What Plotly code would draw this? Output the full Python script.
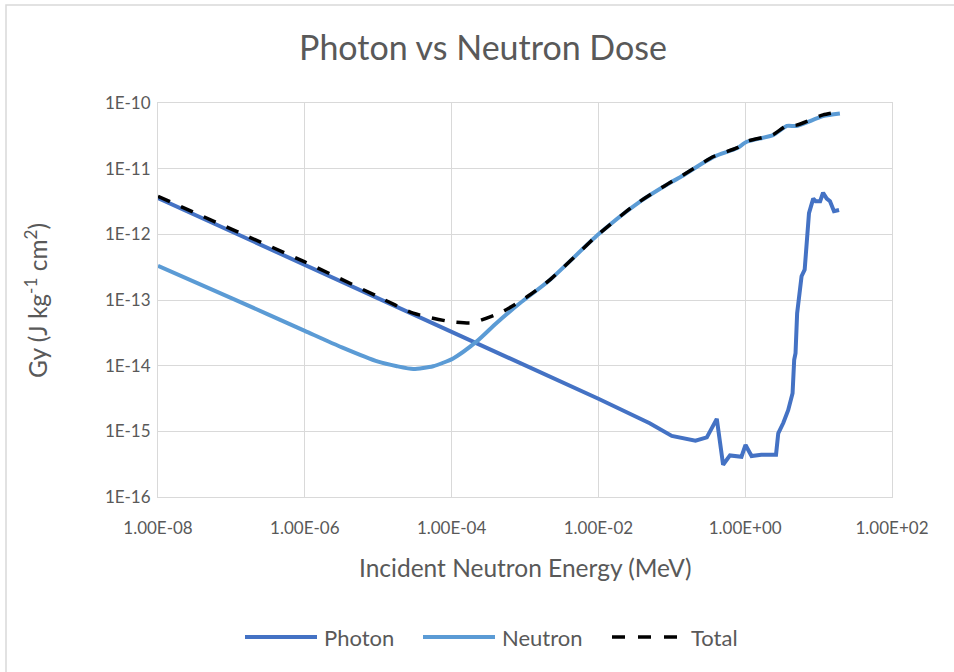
import plotly.graph_objects as go

# Incident neutron energy (MeV) and dose per fluence (Gy, J kg^-1 cm^2)
photon_energy = [1e-8, 1e-7, 1e-6, 1e-5, 1e-4, 1e-3, 1e-2, 0.05, 0.1, 0.21, 0.3, 0.41,
                 0.5, 0.62, 0.89, 1.01, 1.22, 1.66, 2.63, 2.82, 3.31, 3.85, 4.42, 4.65,
                 4.85, 5.1, 5.86, 6.46, 6.85, 7.4, 8.45, 9.1, 10.5, 11.5, 12.9, 14.3,
                 16.2, 19.0]
photon_dose = [3.58e-12, 1.11e-12, 3.42e-13, 1.06e-13, 3.27e-14, 1.01e-14, 3.13e-15,
               1.33e-15, 8.5e-16, 7.2e-16, 8.1e-16, 1.55e-15, 3.1e-16, 4.3e-16, 4.1e-16,
               6.2e-16, 4.2e-16, 4.4e-16, 4.4e-16, 9.3e-16, 1.35e-15, 2.1e-15, 3.8e-15,
               1.23e-14, 1.55e-14, 6.3e-14, 2.3e-13, 2.9e-13, 6.5e-13, 2.1e-12, 3.5e-12,
               3.2e-12, 3.2e-12, 4.3e-12, 3.5e-12, 3.2e-12, 2.25e-12, 2.35e-12]

neutron_energy = [1e-8, 1e-7, 1e-6, 3.2e-6, 1e-5, 1.8e-5, 3e-5, 5.6e-5, 1.05e-4, 2.2e-4,
                  4.1e-4, 8.5e-4, 2.2e-3, 1e-2, 3.2e-2, 0.1, 0.13, 0.37, 0.77, 1.05, 2.4,
                  3.7, 5.0, 11.5, 19.5]
neutron_dose = [3.31e-13, 1.07e-13, 3.39e-14, 1.9e-14, 1.15e-14, 9.8e-15, 8.9e-15, 9.8e-15,
                1.29e-14, 2.34e-14, 4.47e-14, 8.9e-14, 2.04e-13, 1.0e-12, 2.82e-12, 6.3e-12,
                7.4e-12, 1.51e-11, 2.04e-11, 2.57e-11, 3.24e-11, 4.47e-11, 4.47e-11, 6.3e-11,
                6.9e-11]

total_energy = [1e-8, 1e-7, 1e-6, 1e-5, 3e-5, 9.5e-5, 1.8e-4, 2.2e-4, 4.9e-4, 1.17e-3,
                2.2e-3, 1e-2, 3.2e-2, 0.1, 0.13, 0.37, 0.77, 1.05, 2.4, 3.7, 5.0, 11.5, 16.0]
total_dose = [3.8e-12, 1.2e-12, 3.8e-13, 1.12e-13, 6.3e-14, 4.7e-14, 4.47e-14, 4.68e-14,
              6.6e-14, 1.2e-13, 2.04e-13, 1.0e-12, 2.85e-12, 6.4e-12, 7.5e-12, 1.53e-11,
              2.07e-11, 2.6e-11, 3.3e-11, 4.55e-11, 4.6e-11, 6.6e-11, 7.1e-11]

x_tick_vals = [1e-8, 1e-6, 1e-4, 1e-2, 1e0, 1e2]
x_tick_text = ["1.00E-08", "1.00E-06", "1.00E-04", "1.00E-02", "1.00E+00", "1.00E+02"]
y_tick_vals = [1e-16, 1e-15, 1e-14, 1e-13, 1e-12, 1e-11, 1e-10]
y_tick_text = ["1E-16", "1E-15", "1E-14", "1E-13", "1E-12", "1E-11", "1E-10"]

series_names = ["Photon", "Neutron", "Total"]
series_colors = ["#4472C4", "#5B9BD5", "#000000"]

FONT = "Lato"
GREY = "#595959"
GRID = "#D9D9D9"

W, H = 954, 672
L, R, T, B = 158, 892, 103, 497   # plot-area edges in pixels


def px_x(px):
    return (px - L) / (R - L)


def px_y(py):
    return (B - py) / (B - T)


fig = go.Figure()
fig.add_trace(go.Scatter(x=photon_energy, y=photon_dose, mode="lines", name=series_names[0],
                         line=dict(color=series_colors[0], width=4), showlegend=False))
fig.add_trace(go.Scatter(x=neutron_energy, y=neutron_dose, mode="lines", name=series_names[1],
                         line=dict(color=series_colors[1], width=4, shape="spline",
                                   smoothing=0.6), showlegend=False))
fig.add_trace(go.Scatter(x=total_energy, y=total_dose, mode="lines", name=series_names[2],
                         line=dict(color=series_colors[2], width=3.5, dash="13px,12px",
                                   shape="spline", smoothing=0.6), showlegend=False))

fig.update_layout(
    width=W, height=H,
    margin=dict(l=L, r=W - R, t=T, b=H - B),
    paper_bgcolor="white", plot_bgcolor="white",
    font=dict(family=FONT, color=GREY),
    title=dict(text="Photon vs Neutron Dose", x=483 / W, xanchor="center",
               y=1 - 48 / H, yanchor="middle", xref="container", yref="container",
               font=dict(size=34, color=GREY, family=FONT)),
)

fig.update_xaxes(type="log", range=[-8, 2], tickvals=x_tick_vals, ticktext=x_tick_text,
                 showgrid=True, gridcolor=GRID, gridwidth=1, showline=True, linecolor=GRID,
                 linewidth=1, mirror=True, ticks="", zeroline=False, ticklabelstandoff=16,
                 tickfont=dict(size=17, color=GREY, family=FONT))
fig.update_yaxes(type="log", range=[-16, -10], tickvals=y_tick_vals, ticktext=y_tick_text,
                 showgrid=True, gridcolor=GRID, gridwidth=1, showline=True, linecolor=GRID,
                 linewidth=1, mirror=True, ticks="", zeroline=False, ticklabelstandoff=3,
                 tickfont=dict(size=17, color=GREY, family=FONT))

# axis titles
fig.add_annotation(xref="paper", yref="paper", x=px_x(525), y=px_y(567),
                   text="Incident Neutron Energy (MeV)", showarrow=False,
                   xanchor="center", yanchor="middle",
                   font=dict(size=24.5, color=GREY, family=FONT))
fig.add_annotation(xref="paper", yref="paper", x=px_x(36), y=px_y(300),
                   text="Gy (J kg<sup>-1</sup> cm<sup>2</sup>)", showarrow=False,
                   textangle=-90, xanchor="center", yanchor="middle",
                   font=dict(size=24.5, color=GREY, family=FONT))

# chart border
fig.add_shape(type="rect", xref="paper", yref="paper",
              x0=px_x(6), y0=px_y(5), x1=px_x(W + 20), y1=px_y(H + 20),
              line=dict(color=GRID, width=1.5), fillcolor="rgba(0,0,0,0)", layer="below")

# legend drawn along the bottom
legend_y = 637
legend_items = [(245, 317, 322), (423, 495, 500), (612, 683, 689)]
for (x0, x1, tx), name, color in zip(legend_items, series_names, series_colors):
    dash = "13px,13px" if name == "Total" else "solid"
    fig.add_shape(type="line", xref="paper", yref="paper",
                  x0=px_x(x0), x1=px_x(x1), y0=px_y(legend_y), y1=px_y(legend_y),
                  line=dict(color=color, width=4 if name != "Total" else 3.5, dash=dash))
    fig.add_annotation(xref="paper", yref="paper", x=px_x(tx), y=px_y(legend_y),
                       text=name, showarrow=False, xanchor="left", yanchor="middle",
                       font=dict(size=22, color=GREY, family=FONT))

fig.write_html("out.html")
